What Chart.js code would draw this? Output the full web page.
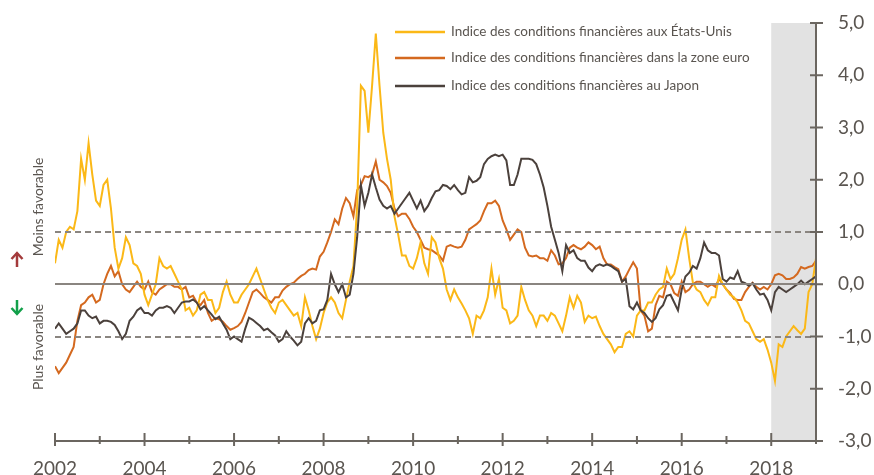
<!DOCTYPE html>
<html>
<head>
<meta charset="utf-8">
<script src="https://cdn.jsdelivr.net/npm/chart.js@4.4.0/dist/chart.umd.min.js"></script>
<style>
  html, body { margin: 0; padding: 0; background: #fff; }
  canvas { display: block; }
</style>
</head>
<body>
<canvas id="fci" width="874" height="475"></canvas>
<script>
// monthly readings, Jan 2002 -> Jan 2019
const startYear = 2002;
const endYear = 2019;
const shadeFrom = 2018;
const refLines = [1, -1];

const seriesNames = [
  "Indice des conditions financières aux États-Unis",
  "Indice des conditions financières dans la zone euro",
  "Indice des conditions financières au Japon"
];

const usIndex = [
  0.4, 0.85, 0.7, 1.0, 1.1, 1.05, 1.4, 2.4, 2.0, 2.7, 2.1, 1.6,
  1.5, 1.9, 2.0, 1.45, 0.7, 0.3, 0.5, 0.9, 0.75, 0.4, 0.35, 0.2,
  -0.2, -0.4, -0.2, 0.0, 0.5, 0.35, 0.3, 0.35, 0.2, 0.05, -0.1, -0.5,
  -0.45, -0.6, -0.5, -0.2, -0.15, -0.3, -0.3, -0.55, -0.45, -0.15, 0.05, -0.2,
  -0.35, -0.35, -0.2, -0.1, 0.0, 0.15, 0.3, 0.1, -0.1, -0.3, -0.45, -0.55,
  -0.35, -0.3, -0.4, -0.5, -0.6, -0.55, -0.8, -0.25, -0.5, -0.8, -1.05, -0.85,
  -0.55, -0.35, -0.25, -0.35, -0.55, -0.65, -0.3, 0.05, 0.35, 1.5, 3.8, 3.7,
  2.9, 3.8, 4.8, 3.8, 2.9, 2.4, 2.0, 1.3, 0.95, 0.55, 0.55, 0.35,
  0.3, 0.5, 0.8, 0.4, 0.2, 0.9, 0.8, 0.5, 0.3, -0.1, -0.3, -0.1,
  -0.25, -0.37, -0.5, -0.65, -0.95, -0.6, -0.65, -0.5, -0.25, 0.3, -0.2, 0.1,
  -0.45, -0.5, -0.75, -0.7, -0.6, -0.05, -0.3, -0.5, -0.6, -0.8, -0.6, -0.6,
  -0.7, -0.55, -0.6, -0.75, -0.9, -0.6, -0.25, -0.45, -0.22, -0.35, -0.72, -0.6,
  -0.65, -0.62, -0.8, -0.95, -1.05, -1.15, -1.3, -1.2, -1.2, -0.95, -0.9, -1.0,
  -0.6, -0.5, -0.5, -0.35, -0.35, -0.2, -0.1, -0.05, 0.3, 0.1, 0.2, 0.5,
  0.85, 1.05, 0.5, 0.03, -0.1, -0.15, -0.3, -0.4, -0.25, -0.25, 0.16, 0.0,
  -0.1, -0.2, -0.25, -0.35, -0.5, -0.7, -0.75, -0.9, -1.05, -1.1, -1.05, -1.25,
  -1.5, -1.85, -1.15, -1.2, -1.0, -0.9, -0.8, -0.88, -0.95, -0.85, -0.15, 0.0,
  0.5
];

const euroIndex = [
  -1.57, -1.7, -1.6, -1.5, -1.35, -1.2, -0.7, -0.4, -0.35, -0.25, -0.2, -0.35,
  -0.3, 0.0, 0.2, 0.35, 0.15, 0.25, 0.0, -0.1, -0.15, -0.05, 0.05, -0.05,
  -0.1, 0.05, -0.15, -0.2, -0.1, -0.05, 0.0, 0.0, -0.05, -0.05, -0.1, -0.05,
  -0.25, -0.22, -0.35, -0.4, -0.3, -0.55, -0.7, -0.65, -0.67, -0.72, -0.8, -0.87,
  -0.84, -0.8, -0.72, -0.55, -0.35, -0.15, -0.1, -0.17, -0.25, -0.3, -0.35, -0.25,
  -0.25, -0.12, -0.05, 0.0, 0.03, 0.1, 0.16, 0.2, 0.27, 0.3, 0.28, 0.53,
  0.62, 0.8, 1.0, 1.24, 1.15, 1.45, 1.65, 1.55, 1.3, 1.8, 1.9, 2.07,
  2.05, 2.1, 2.35, 2.0, 1.95, 1.88, 1.75, 1.45, 1.3, 1.35, 1.35, 1.25,
  1.1, 1.0, 0.85, 0.7, 0.67, 0.65, 0.6, 0.55, 0.45, 0.72, 0.75, 0.72,
  0.7, 0.72, 0.85, 1.05, 1.1, 1.15, 1.22, 1.4, 1.55, 1.55, 1.6, 1.5,
  1.22, 1.05, 0.85, 0.95, 1.05, 1.0, 0.7, 0.55, 0.53, 0.55, 0.5, 0.5,
  0.45, 0.65, 0.55, 0.38, 0.4, 0.5, 0.7, 0.75, 0.7, 0.67, 0.72, 0.8,
  0.75, 0.67, 0.72, 0.5, 0.38, 0.38, 0.33, 0.29, 0.05, 0.15, 0.29, 0.42,
  0.3, -0.5, -0.6, -0.9, -0.85, -0.4, -0.22, -0.25, 0.05, 0.0, -0.17, -0.22,
  0.05, -0.15, -0.1, 0.0, 0.05, 0.05, 0.0, -0.05, 0.0, -0.05, 0.1, 0.0,
  -0.1, -0.17, -0.28, -0.3, -0.3, -0.15, -0.05, 0.03, -0.05, -0.1, -0.05, -0.1,
  0.0, 0.17, 0.2, 0.17, 0.1, 0.1, 0.13, 0.2, 0.33, 0.3, 0.33, 0.35,
  0.45
];

const japanIndex = [
  -0.85, -0.75, -0.85, -0.95, -0.9, -0.85, -0.75, -0.5, -0.5, -0.6, -0.65, -0.62,
  -0.75, -0.7, -0.7, -0.72, -0.78, -0.9, -1.05, -0.95, -0.7, -0.62, -0.5, -0.45,
  -0.55, -0.55, -0.6, -0.5, -0.45, -0.45, -0.42, -0.45, -0.55, -0.45, -0.35, -0.33,
  -0.33, -0.29, -0.35, -0.48, -0.42, -0.5, -0.58, -0.67, -0.62, -0.75, -0.87, -1.05,
  -1.0, -1.05, -1.1, -0.85, -0.64, -0.68, -0.74, -0.8, -0.88, -0.85, -0.92, -0.98,
  -1.1, -1.05, -0.9, -1.0, -1.08, -1.17, -1.1, -0.75, -0.65, -0.75, -0.7, -0.5,
  -0.48, -0.3, 0.2, 0.0, -0.15, 0.0, -0.25, -0.2, 0.2, 0.9, 1.9, 1.5,
  1.75, 2.1, 1.85, 1.62, 1.5, 1.45, 1.5, 1.35, 1.45, 1.55, 1.65, 1.75,
  1.6, 1.45, 1.6, 1.4, 1.5, 1.65, 1.78, 1.8, 1.9, 1.88, 1.82, 1.9,
  1.8, 1.72, 1.75, 2.05, 1.95, 1.98, 2.05, 2.3, 2.4, 2.45, 2.48, 2.45,
  2.48, 2.37, 1.9, 1.9, 2.1, 2.4, 2.4, 2.4, 2.38, 2.3, 2.1, 1.85,
  1.5, 1.1, 0.85, 0.6, 0.25, 0.75, 0.6, 0.65, 0.5, 0.45, 0.45, 0.32,
  0.25, 0.35, 0.38, 0.35, 0.38, 0.35, 0.3, 0.25, 0.05, 0.1, -0.42, -0.48,
  -0.35, -0.5, -0.55, -0.65, -0.72, -0.65, -0.48, -0.4, -0.22, -0.2, -0.35, -0.5,
  -0.1, 0.15, 0.22, 0.35, 0.3, 0.5, 0.8, 0.65, 0.6, 0.6, 0.55, 0.1,
  0.05, 0.13, 0.1, 0.25, 0.05, 0.02, -0.03, 0.02, -0.1, -0.2, -0.18, -0.3,
  -0.5, -0.15, -0.05, -0.1, -0.15, -0.1, -0.05, 0.0, 0.07, 0.0, 0.05, 0.1,
  0.15
];

const colors = ["#fbb817", "#d4691f", "#4b413c"];
const axisColor = "#6b6660";
const textColor = "#5a5550";
const font = "Lato";

function toPoints(values) {
  return values.map((v, i) => ({ x: startYear + i / 12, y: v }));
}

function line(ctx, x0, y0, x1, y1) {
  ctx.beginPath();
  ctx.moveTo(x0, y0);
  ctx.lineTo(x1, y1);
  ctx.stroke();
}

const decor = {
  id: "decor",
  beforeDatasetsDraw(chart) {
    const { ctx, chartArea: a, scales: { x } } = chart;
    const x0 = x.getPixelForValue(shadeFrom);
    const x1 = x.getPixelForValue(endYear);
    ctx.save();
    ctx.fillStyle = "#e2e2e2";
    ctx.fillRect(x0, a.top, x1 - x0, a.bottom - a.top);
    ctx.restore();
  },
  afterDatasetsDraw(chart) {
    const { ctx, chartArea: a, scales: { x, y } } = chart;
    ctx.save();

    // reference lines
    ctx.lineWidth = 2;
    ctx.strokeStyle = "#8a8580";
    ctx.setLineDash([6, 4]);
    refLines.forEach(v => {
      const py = Math.round(y.getPixelForValue(v));
      line(ctx, a.left, py, a.right, py);
    });
    ctx.setLineDash([]);
    const zy = Math.round(y.getPixelForValue(0));
    line(ctx, a.left, zy, a.right, zy);

    // axes
    ctx.strokeStyle = axisColor;
    line(ctx, a.left, a.bottom, a.right + 7, a.bottom);
    line(ctx, a.right, a.top, a.right, a.bottom);
    for (let yr = startYear; yr <= endYear; yr++) {
      const px = x.getPixelForValue(yr);
      if (yr % 2 === 0) line(ctx, px, a.bottom - 8, px, a.bottom + 5);
      else line(ctx, px, a.bottom - 5, px, a.bottom + 3);
    }
    y.ticks.forEach(t => {
      const py = y.getPixelForValue(t.value);
      line(ctx, a.right - 6, py, a.right + 7, py);
    });

    // legend
    ctx.font = "13.5px " + font;
    ctx.textBaseline = "middle";
    ctx.textAlign = "left";
    const rows = [32, 58, 86];
    chart.data.datasets.forEach((ds, i) => {
      ctx.strokeStyle = ds.borderColor;
      ctx.lineWidth = 2.5;
      line(ctx, 395, rows[i], 445, rows[i]);
      ctx.fillStyle = textColor;
      ctx.fillText(ds.label, 451, rows[i]);
    });

    // side notes
    ctx.font = "14px " + font;
    ctx.fillStyle = textColor;
    ctx.textAlign = "center";
    [["Moins favorable", 207], ["Plus favorable", 347]].forEach(([txt, cy]) => {
      ctx.save();
      ctx.translate(38, cy);
      ctx.rotate(-Math.PI / 2);
      ctx.fillText(txt, 0, 0);
      ctx.restore();
    });
    ctx.lineWidth = 2.5;
    ctx.strokeStyle = "#a33a3b";
    line(ctx, 17, 267, 17, 253);
    ctx.beginPath();
    ctx.moveTo(11.5, 259); ctx.lineTo(17, 253); ctx.lineTo(22.5, 259);
    ctx.stroke();
    ctx.strokeStyle = "#12a04a";
    line(ctx, 17, 300, 17, 314);
    ctx.beginPath();
    ctx.moveTo(11.5, 308); ctx.lineTo(17, 314); ctx.lineTo(22.5, 308);
    ctx.stroke();

    ctx.restore();
  }
};

const datasets = [usIndex, euroIndex, japanIndex].map((vals, i) => ({
  label: seriesNames[i],
  data: toPoints(vals),
  borderColor: colors[i],
  borderWidth: 2,
  pointRadius: 0,
  tension: 0,
  order: [1, 2, 0][i]
}));

new Chart(document.getElementById("fci"), {
  type: "line",
  data: { datasets },
  options: {
    responsive: false,
    animation: false,
    devicePixelRatio: 1,
    layout: { padding: { left: 55, top: 23, right: 0, bottom: 0 } },
    plugins: { legend: { display: false }, tooltip: { enabled: false } },
    scales: {
      x: {
        type: "linear",
        min: startYear,
        max: endYear,
        grid: { display: false, drawTicks: false },
        border: { display: false },
        afterFit: s => { s.height = 34; },
        ticks: {
          stepSize: 1,
          autoSkip: false,
          maxRotation: 0,
          padding: 16,
          color: textColor,
          font: { family: font, size: 19 },
          callback: v => (v % 2 === 0 ? String(v) : "")
        }
      },
      y: {
        position: "right",
        min: -3,
        max: 5,
        grid: { display: false, drawTicks: false },
        border: { display: false },
        afterFit: s => { s.width = 58; s.paddingTop = 0; s.paddingBottom = 0; },
        ticks: {
          stepSize: 1,
          padding: 22,
          color: textColor,
          font: { family: font, size: 19 },
          callback: v => v.toFixed(1).replace(".", ",")
        }
      }
    }
  },
  plugins: [decor]
});
</script>
</body>
</html>
